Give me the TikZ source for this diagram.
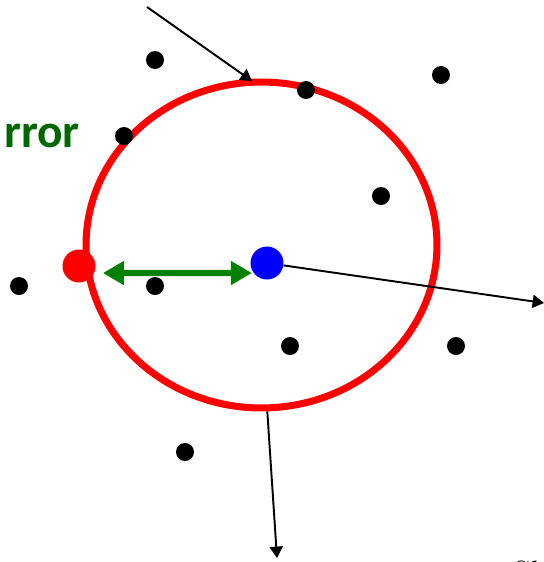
\documentclass[tikz,border=0pt]{standalone}
\usepackage{fontspec}
\setsansfont{Carlito}
\usetikzlibrary{arrows.meta,shapes.geometric}
\definecolor{errgreen}{RGB}{0,102,0}

\begin{document}
\begin{tikzpicture}[
  x=0.02cm, y=-0.02cm,
  dot/.style={circle, fill=black, minimum size=0.36cm, inner sep=0pt},
  bigdot/.style={circle, minimum size=0.66cm, inner sep=0pt},
  ring/.style={ellipse, draw=red, line width=4pt, minimum width=7.02cm,
               minimum height=6.52cm, inner sep=0pt},
  ray/.style={-{Triangle[length=6.5pt,width=7.5pt]}, draw=black, line width=1.1pt},
  gap/.style={{Triangle[length=12pt,width=13pt]}-{Triangle[length=12pt,width=13pt]},
              draw=green!50!black, line width=3.6pt},
  lbl/.style={font=\sffamily\bfseries\fontsize{27}{30}\selectfont, text=errgreen,
              inner sep=0pt},
]

% --- fixed bounding box (white background) ---
\useasboundingbox (0,0) rectangle (544,562);
\clip (0,0) rectangle (544,562);
\fill[white] (0,0) rectangle (544,562);

% ============================ NODES =================================
% the red ring
\node[ring] (circ) at (261.5,245) {};

% scattered points
\node[dot] (p1)  at (155,60)  {};
\node[dot] (p2)  at (441,75)  {};
\node[dot] (p3)  at (306,90)  {};
\node[dot] (p4)  at (124,136) {};
\node[dot] (p5)  at (381,196) {};
\node[dot] (p6)  at (19,286)  {};
\node[dot] (p7)  at (155,286) {};
\node[dot] (p8)  at (290,346) {};
\node[dot] (p9)  at (456,346) {};
\node[dot] (p10) at (185,452) {};

% the point on the ring and the centre
\node[bigdot, fill=red]  (err) at (79,266)  {};
\node[bigdot, fill=blue] (ctr) at (267,263) {};

% texts (cut at the edges)
\node[lbl, anchor=base west] (word) at (4,147) {rror};
\node[anchor=base west, inner sep=0pt, font=\fontsize{20}{22}\selectfont]
  (cut) at (513,585) {Sl};

% free ends
\coordinate (src)  at (147,7);
\coordinate (hit)  at (252,81);
\coordinate (far)  at (544,303);
\coordinate (drop) at (277,558);

% ============================ EDGES =================================
\draw[ray] (src) -- (hit);
\draw[ray] (ctr) -- (far);
\draw[ray] (circ.-88) -- (drop);
\draw[gap] ([xshift=4pt,yshift=-4pt]err.east) -- ([xshift=1pt,yshift=-5.7pt]ctr.west);

\end{tikzpicture}
\end{document}
